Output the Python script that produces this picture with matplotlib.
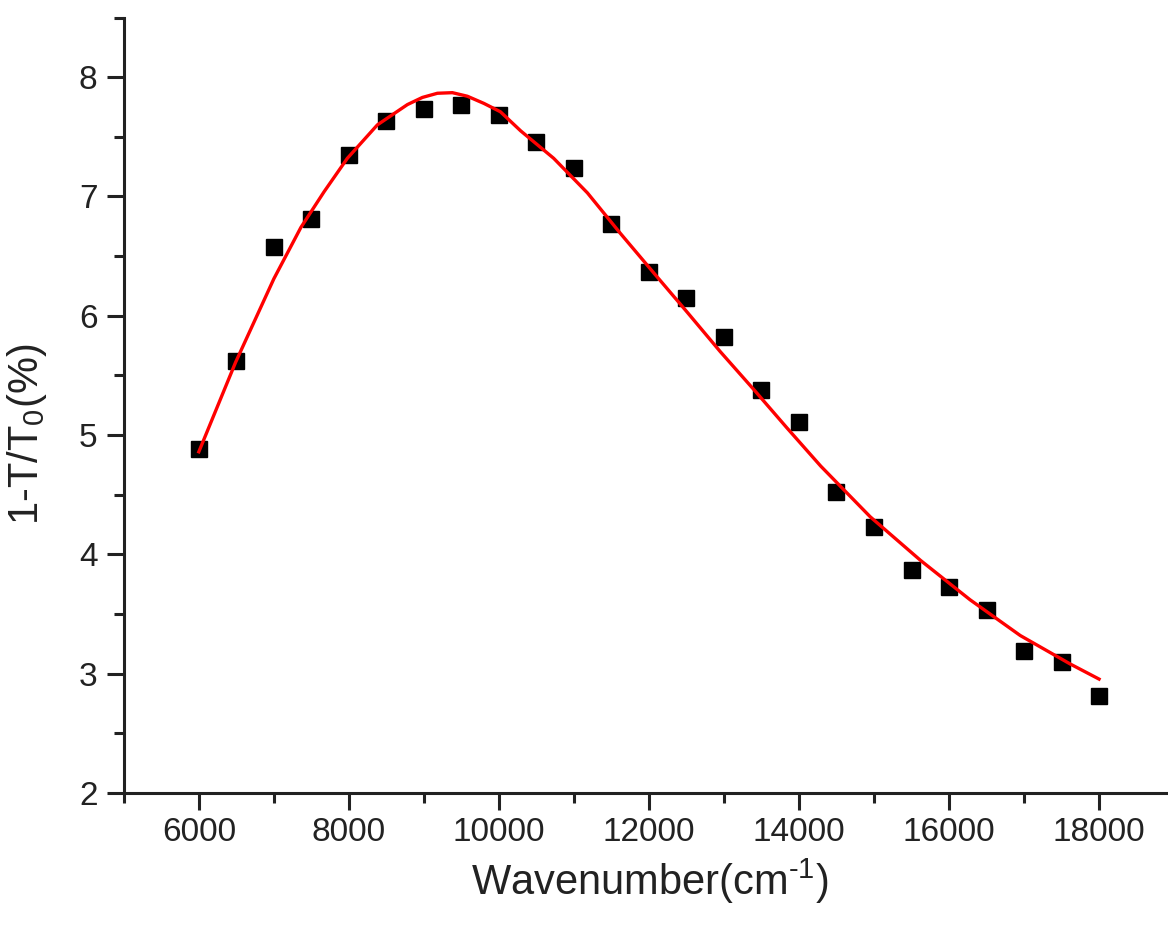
import matplotlib
matplotlib.use('Agg')

import matplotlib.pyplot as plt
from matplotlib.ticker import MultipleLocator

plt.rcParams['font.family'] = ['Liberation Sans', 'DejaVu Sans']
plt.rcParams['mathtext.fontset'] = 'custom'
plt.rcParams['mathtext.rm'] = 'Liberation Sans'
plt.rcParams['mathtext.it'] = 'Liberation Sans'
plt.rcParams['mathtext.default'] = 'regular'

# measured absorption points
wavenumber = [6000, 6500, 7000, 7500, 8000, 8500, 9000, 9500, 10000, 10500,
              11000, 11500, 12000, 12500, 13000, 13500, 14000, 14500, 15000,
              15500, 16000, 16500, 17000, 17500, 18000]
absorb = [4.88, 5.62, 6.58, 6.81, 7.35, 7.63, 7.73, 7.77, 7.68, 7.46,
          7.24, 6.77, 6.37, 6.15, 5.82, 5.38, 5.11, 4.52, 4.23,
          3.87, 3.73, 3.53, 3.19, 3.10, 2.81]

# fitted curve
fit_x = [6000, 6490, 7000, 7360, 7670, 7980, 8380, 8780, 8980, 9180,
         9380, 9580, 9800, 10020, 10290, 10730, 11180, 11620, 12070,
         12510, 12950, 13400, 13840, 14290, 14950, 15620, 16280, 16950,
         17620, 18000]
fit_y = [4.86, 5.61, 6.31, 6.74, 7.04, 7.32, 7.60, 7.77, 7.83, 7.865,
         7.87, 7.84, 7.78, 7.71, 7.55, 7.32, 7.03, 6.69, 6.355,
         6.03, 5.70, 5.38, 5.06, 4.74, 4.315, 3.95, 3.62, 3.32,
         3.08, 2.955]

fig = plt.figure(figsize=(11.68, 9.26), dpi=100)
ax = fig.add_axes([0.106, 0.1436, 0.894, 0.8375])

ax.plot(wavenumber, absorb, linestyle='none', marker='s', markersize=11,
        color='black', zorder=2)
ax.plot(fit_x, fit_y, color='#ff0000', linewidth=2.4, zorder=3,
        solid_joinstyle='round')

ax.set_xlim(5000, 18919)
ax.set_ylim(2, 8.5)

ax.spines['top'].set_visible(False)
ax.spines['right'].set_visible(False)
ax.spines['left'].set_linewidth(2.2)
ax.spines['bottom'].set_linewidth(2.2)
ax.spines['left'].set_color('#222222')
ax.spines['bottom'].set_color('#222222')

ax.xaxis.set_major_locator(MultipleLocator(2000))
ax.xaxis.set_minor_locator(MultipleLocator(1000))
ax.yaxis.set_major_locator(MultipleLocator(1))
ax.yaxis.set_minor_locator(MultipleLocator(0.5))

ax.tick_params(which='major', direction='out', length=12, width=2.2,
               labelsize=24, color='#222222', labelcolor='#222222')
ax.tick_params(which='minor', direction='out', length=7, width=2.2,
               color='#222222')
ax.tick_params(axis='x', which='major', pad=5)
ax.tick_params(axis='y', which='major', pad=7)

ax.set_xlabel(r'Wavenumber(cm$^{\text{-1}}$)', fontsize=30, color='#222222')
ax.set_ylabel('1-T/T$_0$(%)', fontsize=30, color='#222222')
ax.xaxis.set_label_coords(0.504, -0.082)
ax.yaxis.set_label_coords(-0.072, 0.462)

fig.savefig('out.png', dpi=100, facecolor='white')
